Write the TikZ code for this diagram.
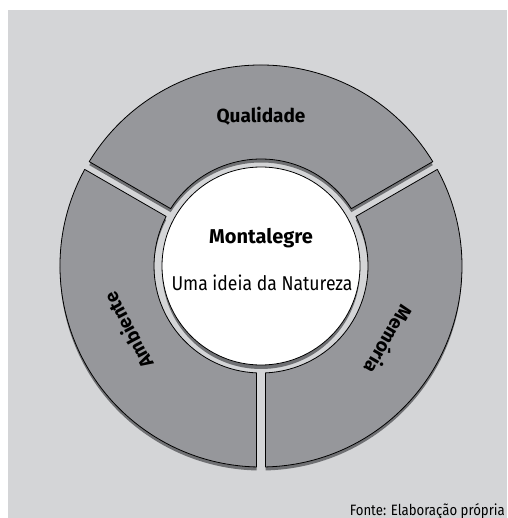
\documentclass[tikz,border=0pt]{standalone}
\usepackage{fontspec}
\setmainfont{Fira Sans}
\newfontfamily\condfont[FakeStretch=0.88]{Fira Sans}
\definecolor{bggray}{HTML}{D4D5D7}
\definecolor{seggray}{HTML}{96979B}
\definecolor{shadowgray}{HTML}{6F7073}
\newcommand\Ro{201}
\newcommand\Ri{107}
\newcommand\dO{1.283}
\newcommand\dI{2.41}
\newcommand\segpath[2]{([shift={(c)}]#1+\dO:\Ro) arc[start angle=#1+\dO, end angle=#2-\dO, radius=\Ro] -- ([shift={(c)}]#2-\dI:\Ri) arc[start angle=#2-\dI, end angle=#1+\dI, radius=\Ri] -- cycle}
\tikzset{
  segment/.style={fill=seggray, draw=black, line width=0.8pt, line join=round},
  segshadow/.style={fill=shadowgray},
  seglabel/.style={font=\fontsize{19}{22}\selectfont\bfseries, text=black, inner sep=0pt},
}
\begin{document}
\begin{tikzpicture}[x=1pt,y=1pt]
\useasboundingbox (0,0) rectangle (507,-518);
\fill[white] (0,0) rectangle (507,-518);
\fill[bggray] (8,-10) rectangle (507,-518);
\coordinate (c) at (261,-266);
% shadows
\begin{scope}[shift={(0,-3.5)}]
  \fill[segshadow] \segpath{30}{150};
  \fill[segshadow] \segpath{150}{270};
  \fill[segshadow] \segpath{-90}{30};
\end{scope}
\fill[shadowgray] ([shift={(0,-4)}]c) circle[radius=99];
% segments
\draw[segment] \segpath{30}{150};
\draw[segment] \segpath{150}{270};
\draw[segment] \segpath{-90}{30};
% centre
\node (core) [circle, draw=black, line width=0.8pt, fill=white, minimum size=198pt, inner sep=0pt] at (c) {};
\node (title) [font=\fontsize{20}{23}\selectfont\bfseries, inner sep=0pt] at (261,-238) {Montalegre};
\node (sub) [font=\condfont\fontsize{20}{23}\selectfont, inner sep=0pt] at (262,-283) {Uma ideia da Natureza};
% labels
\node (qual) [seglabel] at ([shift={(c)}]90:150) {Qualidade};
\node (amb) [seglabel, rotate=118] at ([shift={(c)}]206:148) {Ambiente};
\node (mem) [seglabel, rotate=-120] at ([shift={(c)}]-30:148) {Memória};
\node (src) [font=\condfont\fontsize{15}{17}\selectfont, anchor=base east, inner sep=0pt] at (505,-515) {Fonte: Elaboração própria};
\end{tikzpicture}
\end{document}
